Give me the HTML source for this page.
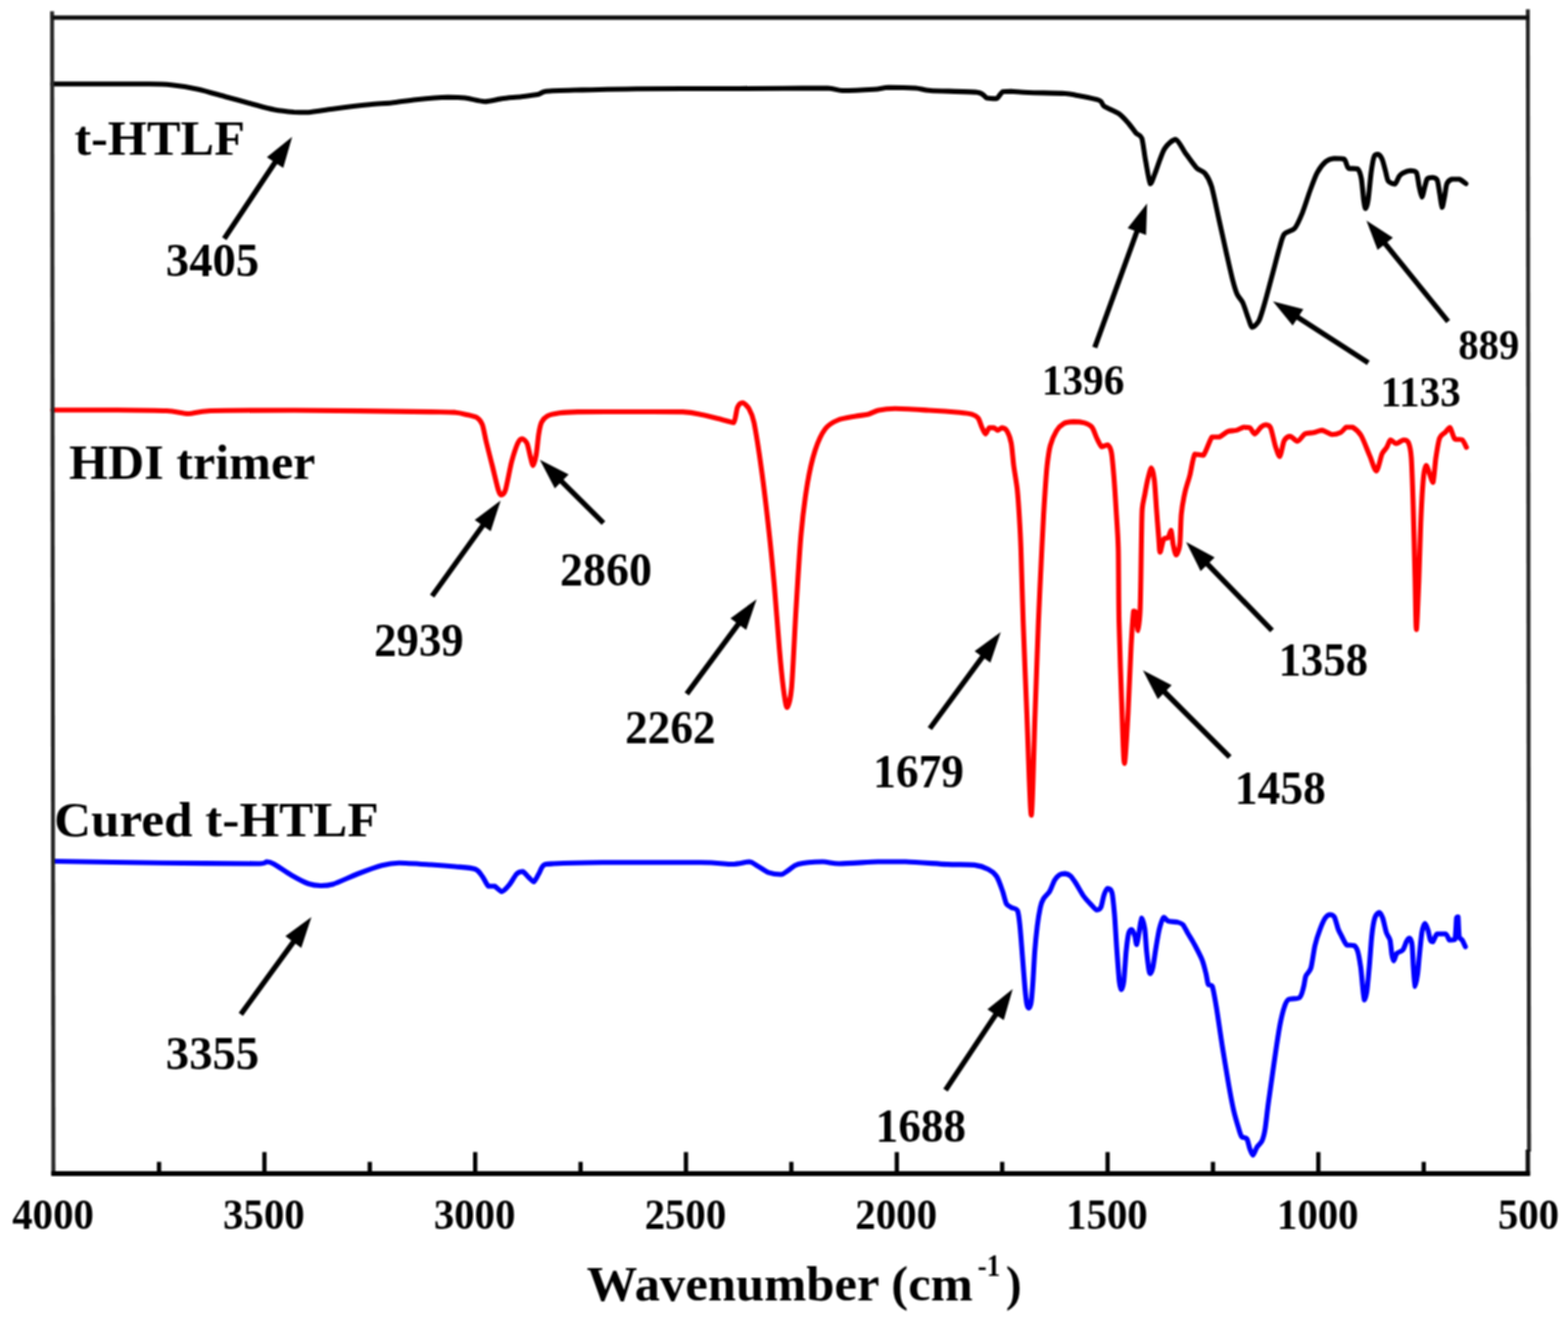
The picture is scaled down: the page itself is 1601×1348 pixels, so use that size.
<!DOCTYPE html>
<html lang="en">
<head>
<meta charset="utf-8">
<title>FTIR spectra</title>
<style>
html,body{margin:0;padding:0;background:#fff;}
body{width:1601px;height:1348px;position:relative;overflow:hidden;}
svg text{font-family:"Liberation Serif","Times New Roman",serif;font-weight:bold;fill:#000;}
</style>
</head>
<body>
<svg width="1601" height="1348" viewBox="0 0 1601 1348" style="display:block;position:absolute;left:0;top:0">
<rect width="1601" height="1348" fill="#fff"/>
<defs><filter id="soft" x="0" y="0" width="1601" height="1348" filterUnits="userSpaceOnUse" color-interpolation-filters="sRGB"><feConvolveMatrix order="3" kernelMatrix="0.0900 0.1200 0.0900 0.1200 0.1600 0.1200 0.0900 0.1200 0.0900" divisor="1" edgeMode="duplicate" preserveAlpha="true"/></filter></defs>
<g filter="url(#soft)"><rect width="1601" height="1348" fill="#fff"/>
<path d="M54.0,85.7 C60.1,85.7 86.9,85.7 100.0,85.7 C113.1,85.7 142.0,85.7 152.0,85.7 C162.0,85.8 168.3,86.0 175.0,86.7 C181.7,87.4 195.2,89.6 202.5,91.2 C209.8,92.8 222.7,96.7 230.0,98.7 C237.3,100.7 250.8,104.4 257.5,106.2 C264.2,108.0 274.3,110.9 280.0,112.0 C285.7,113.1 295.3,114.1 300.0,114.5 C304.7,114.7 309.7,114.7 315.0,114.7 C320.3,114.3 331.7,112.3 340.0,111.2 C348.3,110.1 369.5,107.5 377.5,106.7 C385.5,105.9 393.7,105.7 400.0,105.0 C406.3,104.3 417.3,102.5 425.0,101.7 C432.7,100.9 450.8,99.4 457.5,99.2 C464.2,99.2 470.0,99.4 475.0,100.0 C480.0,100.6 490.0,103.6 495.0,103.7 C500.0,103.7 507.5,101.4 512.5,100.7 C517.5,100.0 527.5,99.3 532.5,98.7 C537.5,98.1 546.7,96.9 550.0,96.2 C553.3,95.5 552.5,93.8 557.5,93.2 C562.5,92.6 575.2,92.3 587.5,92.0 C599.8,91.7 629.0,90.9 650.0,90.7 C671.0,90.5 725.0,90.6 745.0,90.5 C765.0,90.4 786.7,90.4 800.0,90.3 C813.3,90.2 837.0,90.0 845.0,90.0 C853.0,90.3 853.7,92.3 860.0,92.5 C866.3,92.5 886.2,91.6 892.5,91.2 C898.8,90.8 901.8,89.4 907.5,89.2 C913.2,89.2 929.3,89.6 935.0,90.0 C940.7,90.4 941.7,91.9 950.0,92.5 C958.3,93.1 989.8,93.2 997.5,94.2 C1005.2,95.2 1004.8,99.1 1007.5,100.0 C1010.2,100.7 1015.3,100.7 1017.5,100.7 C1019.7,99.9 1021.7,94.7 1023.7,93.7 C1025.7,93.2 1029.0,93.2 1032.5,93.2 C1036.0,93.3 1042.7,94.2 1050.0,94.5 C1057.3,94.8 1080.8,95.1 1087.5,95.5 C1094.2,95.9 1095.3,96.6 1100.0,97.5 C1104.7,98.4 1118.8,101.0 1122.5,102.5 C1126.2,104.0 1124.8,106.9 1127.5,108.7 C1130.2,110.5 1139.2,113.9 1142.5,116.2 C1145.8,118.5 1150.2,123.6 1152.5,126.2 C1154.8,128.8 1158.2,134.0 1160.0,136.0 C1161.8,138.0 1164.5,137.3 1165.8,141.0 C1167.1,144.7 1168.4,157.4 1169.6,163.6 C1170.8,169.8 1173.2,186.0 1174.5,187.8 C1175.8,187.8 1177.4,181.9 1179.3,177.1 C1181.2,172.3 1186.1,156.7 1188.9,152.1 C1191.7,147.5 1197.7,142.4 1200.5,142.4 C1203.3,142.9 1207.3,152.0 1210.1,155.9 C1212.9,159.8 1219.0,168.6 1221.7,171.4 C1224.4,174.2 1228.3,174.5 1230.4,177.1 C1232.5,179.7 1235.2,184.2 1237.1,190.6 C1239.0,197.0 1242.8,216.1 1244.9,225.4 C1247.0,234.7 1250.8,252.1 1252.6,260.1 C1254.4,268.1 1257.0,279.7 1258.4,285.1 C1259.8,290.5 1261.8,297.4 1263.2,300.6 C1264.6,303.8 1267.5,306.0 1269.0,309.3 C1270.5,312.6 1273.5,322.3 1274.8,325.6 C1276.1,328.9 1277.2,334.0 1278.6,334.3 C1280.0,334.3 1283.7,330.8 1285.4,327.6 C1287.1,324.4 1289.3,316.4 1291.1,310.2 C1292.9,304.0 1296.8,289.0 1298.9,281.3 C1301.0,273.6 1304.9,258.1 1306.6,252.4 C1308.3,246.7 1309.3,241.5 1311.4,238.9 C1313.5,236.3 1319.6,235.9 1322.0,233.1 C1324.4,230.3 1327.6,222.7 1329.7,217.6 C1331.8,212.5 1335.5,200.5 1337.5,195.0 C1339.5,189.5 1342.8,180.2 1345.0,176.2 C1347.2,172.2 1351.4,166.9 1353.7,165.0 C1356.0,163.1 1360.0,162.1 1362.5,161.8 C1365.0,161.8 1370.6,161.8 1372.5,162.5 C1374.4,163.8 1375.0,170.5 1376.8,171.8 C1378.6,172.5 1384.4,171.8 1386.2,172.5 C1388.0,173.9 1389.2,178.2 1390.0,182.5 C1390.8,186.8 1391.9,200.9 1392.5,205.0 C1393.1,209.1 1393.7,213.0 1394.3,213.0 C1394.9,213.0 1396.0,209.9 1396.8,205.0 C1397.6,200.1 1399.2,182.2 1400.0,176.2 C1400.8,170.2 1402.1,162.5 1403.0,160.0 C1403.9,157.5 1405.7,157.5 1406.8,157.5 C1407.9,157.8 1410.1,160.0 1411.2,162.5 C1412.3,165.0 1414.2,173.2 1415.0,176.2 C1415.8,179.2 1416.3,183.4 1417.5,185.0 C1418.7,186.6 1422.8,188.0 1424.3,188.0 C1425.8,187.3 1427.6,181.5 1428.7,180.0 C1429.8,178.5 1430.9,177.6 1432.4,176.8 C1433.9,176.0 1438.2,174.4 1440.0,174.3 C1441.8,174.3 1445.0,174.3 1446.2,176.2 C1447.4,178.1 1448.0,185.4 1448.7,188.7 C1449.4,192.0 1451.0,201.0 1451.8,201.2 C1452.6,201.2 1454.3,192.5 1455.0,190.0 C1455.7,187.5 1456.4,183.7 1457.4,182.5 C1458.4,181.3 1461.1,181.2 1462.4,181.2 C1463.7,181.4 1466.4,181.5 1467.4,183.7 C1468.4,185.9 1469.3,193.8 1470.0,197.5 C1470.7,201.2 1471.7,211.3 1472.4,211.8 C1473.1,211.8 1474.2,204.4 1474.9,201.2 C1475.6,198.0 1476.4,189.9 1477.4,187.5 C1478.4,185.1 1480.7,183.6 1482.4,183.0 C1484.1,183.0 1488.1,183.0 1490.0,183.0 C1491.9,183.6 1495.9,186.9 1496.8,187.5" fill="none" stroke="#000" stroke-width="5.1" stroke-linejoin="round" stroke-linecap="round"/>
<path d="M54.0,418.7 C62.8,418.7 104.5,418.7 120.0,418.7 C135.5,418.8 160.3,419.0 170.0,419.5 C179.7,420.0 186.5,422.5 192.5,422.5 C198.5,422.5 200.7,420.0 215.0,419.5 C229.3,419.0 270.0,419.0 300.0,419.0 C330.0,419.1 418.0,420.3 440.0,420.6 C462.0,420.9 460.0,420.8 465.0,421.2 C470.0,421.6 474.5,423.0 477.5,423.7 C480.5,424.4 485.5,425.5 487.5,426.8 C489.5,428.1 491.3,430.6 492.5,433.7 C493.7,436.8 494.9,444.5 496.2,450.0 C497.5,455.5 500.8,468.3 502.5,475.0 C504.2,481.7 507.5,495.9 508.7,500.0 C509.9,504.1 510.8,505.5 511.8,505.5 C512.8,505.5 514.8,504.6 516.2,500.0 C517.6,495.4 520.8,477.5 522.5,471.2 C524.2,464.9 527.3,455.6 528.7,452.5 C530.1,449.4 531.8,448.0 533.0,448.0 C534.2,448.0 536.9,450.2 538.0,452.5 C539.1,454.8 540.4,461.9 541.2,465.0 C542.0,468.1 543.5,475.5 544.3,475.5 C545.1,475.5 546.6,469.2 547.4,465.0 C548.2,460.8 549.3,448.2 550.0,443.7 C550.7,439.2 551.8,433.7 553.0,431.2 C554.2,428.7 556.3,426.3 558.7,425.0 C561.1,423.7 567.0,422.4 571.2,421.8 C575.4,421.2 580.8,420.8 590.0,420.6 C599.2,420.5 625.7,420.5 640.0,420.5 C654.3,420.5 686.7,420.5 697.1,420.6 C707.5,421.0 712.4,422.7 717.9,423.8 C723.4,424.9 734.5,428.0 738.7,429.0 C742.9,430.0 747.2,431.6 749.1,431.6 C751.0,429.9 751.8,418.7 753.0,416.0 C754.2,413.3 756.6,411.3 758.2,411.3 C759.8,411.5 763.1,414.6 764.7,417.3 C766.3,420.0 768.2,423.1 769.9,431.6 C771.6,440.1 775.6,465.7 777.7,480.9 C779.8,496.1 783.8,530.2 785.5,545.8 C787.2,561.4 789.2,582.2 790.6,597.8 C792.0,613.4 794.6,648.8 795.8,662.7 C797.0,676.6 798.7,693.7 799.7,701.7 C800.7,709.7 802.5,722.5 803.6,722.5 C804.7,722.5 807.1,714.9 808.3,701.7 C809.5,688.5 811.4,644.6 812.7,623.8 C814.0,603.0 816.3,563.1 817.9,545.8 C819.5,528.5 822.5,505.3 824.4,493.9 C826.3,482.5 829.8,467.6 832.2,460.1 C834.6,452.6 839.5,442.1 842.6,438.0 C845.7,433.9 851.4,430.7 855.6,429.0 C859.8,427.3 869.6,425.8 873.8,425.0 C878.0,424.2 883.7,423.8 886.8,423.0 C889.9,422.2 893.4,419.8 897.0,419.0 C900.6,418.2 907.2,417.3 914.0,417.3 C920.8,417.3 939.4,418.5 948.2,419.0 C957.0,419.5 974.1,420.7 980.0,421.2 C985.9,421.7 990.0,422.3 992.5,423.1 C995.0,423.9 997.4,425.2 998.7,426.9 C1000.0,428.6 1001.5,434.0 1002.5,436.2 C1003.5,438.4 1005.2,443.0 1006.2,443.1 C1007.2,443.1 1008.8,437.7 1010.0,436.9 C1011.2,436.9 1013.8,436.9 1015.0,436.9 C1016.2,437.2 1017.6,439.4 1018.7,439.4 C1019.8,439.4 1021.8,436.9 1023.1,436.9 C1024.4,437.0 1026.8,437.9 1028.1,440.0 C1029.4,442.1 1031.6,447.8 1032.5,452.5 C1033.4,457.2 1034.2,468.7 1035.0,475.0 C1035.8,481.3 1038.0,493.3 1038.7,500.0 C1039.4,506.7 1040.1,517.0 1040.6,525.0 C1041.1,533.0 1041.9,545.3 1042.4,560.0 C1042.9,574.7 1043.9,612.3 1044.7,634.9 C1045.5,657.5 1047.4,703.5 1048.5,729.8 C1049.6,756.1 1051.9,832.5 1053.0,832.5 C1054.1,832.5 1055.8,756.1 1056.8,729.8 C1057.8,703.5 1059.4,657.5 1060.3,634.9 C1061.2,612.3 1063.1,574.7 1063.8,560.0 C1064.5,545.3 1065.1,533.0 1065.6,525.0 C1066.1,517.0 1066.7,506.7 1067.2,500.0 C1067.7,493.3 1068.5,481.0 1069.2,475.0 C1069.9,469.0 1071.1,459.7 1072.4,455.0 C1073.7,450.3 1076.9,443.0 1078.7,440.0 C1080.5,437.0 1083.9,433.8 1086.2,432.5 C1088.5,431.2 1093.4,430.7 1096.2,430.6 C1099.0,430.6 1104.9,431.2 1107.4,431.9 C1109.9,432.6 1113.2,434.1 1114.9,436.2 C1116.6,438.3 1118.6,444.8 1119.9,447.5 C1121.2,450.2 1123.4,455.3 1124.9,456.2 C1126.4,456.2 1129.9,454.3 1131.2,454.3 C1132.5,455.1 1134.1,458.1 1134.9,462.5 C1135.7,466.9 1136.7,479.1 1137.4,487.4 C1138.1,495.7 1139.3,515.3 1139.9,525.0 C1140.5,534.7 1141.4,545.3 1141.8,560.0 C1142.2,574.7 1142.1,612.3 1142.6,634.9 C1143.1,657.5 1145.0,710.5 1145.7,729.8 C1146.4,749.1 1147.3,779.6 1148.1,779.6 C1148.9,779.6 1150.8,745.7 1151.7,729.8 C1152.6,713.9 1154.1,674.1 1154.9,660.0 C1155.7,645.9 1156.8,628.5 1157.5,624.0 C1158.2,624.0 1159.4,624.0 1160.0,626.0 C1160.6,628.7 1161.5,644.0 1162.0,644.0 C1162.5,643.9 1163.6,631.7 1164.0,625.0 C1164.4,618.3 1164.6,603.6 1164.8,593.5 C1165.0,583.4 1165.3,558.9 1165.5,549.0 C1165.7,539.1 1165.8,525.2 1166.3,519.3 C1166.8,513.4 1168.3,508.4 1169.0,504.5 C1169.7,500.6 1171.0,493.3 1171.9,489.7 C1172.8,486.1 1174.7,477.8 1175.6,477.8 C1176.5,477.8 1177.9,484.2 1178.6,489.7 C1179.3,495.2 1180.2,511.4 1180.8,519.3 C1181.4,527.2 1182.6,543.1 1183.1,549.0 C1183.6,554.9 1183.8,563.7 1184.5,563.9 C1185.2,563.9 1187.1,552.5 1188.2,550.5 C1189.3,549.0 1191.7,550.2 1192.7,549.0 C1193.7,547.8 1195.0,541.6 1195.7,541.6 C1196.4,542.6 1197.2,553.0 1197.9,556.4 C1198.6,559.8 1200.0,566.8 1200.9,566.8 C1201.8,566.8 1203.9,562.0 1204.6,556.4 C1205.3,550.8 1205.5,532.2 1206.2,525.0 C1206.9,517.8 1208.8,507.7 1210.0,502.4 C1211.2,497.1 1213.7,490.2 1215.0,485.0 C1216.3,479.8 1218.2,466.4 1220.0,463.7 C1221.8,463.7 1226.4,465.0 1228.7,465.0 C1231.0,462.7 1235.3,448.7 1237.5,446.2 C1239.7,446.2 1242.8,446.2 1245.0,446.2 C1247.2,445.5 1251.4,441.5 1253.7,440.6 C1256.0,439.7 1260.3,440.0 1262.5,439.4 C1264.7,438.8 1268.2,436.5 1270.0,436.2 C1271.8,436.2 1274.7,436.2 1276.2,436.9 C1277.7,437.8 1279.7,443.1 1281.2,443.1 C1282.7,443.0 1285.9,437.5 1287.4,436.2 C1288.9,434.9 1291.1,433.7 1292.4,433.7 C1293.7,433.8 1296.1,433.9 1297.4,436.9 C1298.7,439.9 1301.1,452.3 1302.4,456.2 C1303.7,460.1 1305.6,466.2 1306.8,466.2 C1308.0,465.4 1309.8,452.7 1311.2,450.0 C1312.6,447.3 1315.6,445.6 1317.4,445.6 C1319.2,445.7 1322.9,450.6 1324.9,450.6 C1326.9,450.3 1330.2,444.3 1332.4,443.1 C1334.6,441.9 1338.9,442.3 1341.2,441.8 C1343.5,441.3 1347.4,439.4 1349.9,439.4 C1352.4,439.7 1357.4,443.4 1359.9,443.7 C1362.4,443.7 1366.6,442.8 1368.6,441.8 C1370.6,440.8 1373.2,436.9 1374.9,436.2 C1376.6,436.2 1379.1,436.2 1381.1,436.2 C1383.1,437.4 1387.6,441.1 1389.9,445.0 C1392.2,448.9 1396.5,460.8 1398.6,465.6 C1400.7,470.4 1403.6,481.0 1405.3,481.0 C1407.0,480.7 1409.7,466.8 1411.1,463.6 C1412.5,460.4 1414.7,458.8 1415.9,456.9 C1417.1,455.0 1418.5,449.7 1419.8,449.2 C1421.1,449.2 1423.8,453.0 1425.6,453.0 C1427.4,453.0 1431.6,449.3 1433.3,449.2 C1435.0,449.2 1437.1,449.7 1438.1,452.1 C1439.1,454.5 1440.4,459.0 1441.0,467.5 C1441.6,476.0 1442.4,499.0 1442.9,515.7 C1443.4,532.4 1444.5,575.9 1444.9,592.9 C1445.3,609.9 1445.7,643.0 1446.2,643.0 C1446.7,643.0 1448.1,607.3 1448.7,592.9 C1449.3,578.5 1450.0,549.1 1450.6,535.0 C1451.2,520.9 1452.7,494.8 1453.5,486.8 C1454.3,478.8 1455.6,475.7 1456.4,475.2 C1457.2,475.2 1458.4,480.6 1459.3,482.9 C1460.2,485.2 1462.3,492.6 1463.2,492.6 C1464.1,490.5 1465.2,473.5 1466.1,467.5 C1467.0,461.5 1468.6,450.8 1469.9,447.3 C1471.2,443.8 1474.3,442.9 1475.7,441.5 C1477.1,440.1 1479.2,436.6 1480.5,436.6 C1481.8,437.5 1483.7,446.5 1485.4,448.2 C1487.1,449.2 1491.5,448.2 1493.1,449.2 C1494.7,450.4 1496.7,455.9 1497.3,456.9" fill="none" stroke="#ff0000" stroke-width="5.1" stroke-linejoin="round" stroke-linecap="round"/>
<path d="M55.0,879.5 C69.7,879.7 137.0,880.9 165.0,881.2 C193.0,881.5 250.7,882.0 265.0,882.0 C272.5,881.8 270.5,880.0 272.5,880.0 C274.5,880.1 276.7,880.7 280.0,882.5 C283.3,884.3 292.8,891.0 297.5,893.7 C302.2,896.4 311.0,901.1 315.0,902.5 C319.0,903.9 324.2,904.4 327.5,904.5 C330.8,904.5 335.0,904.5 340.0,903.0 C345.0,901.4 358.3,895.1 365.0,892.5 C371.7,889.9 384.3,885.2 390.0,883.7 C395.7,882.2 400.8,881.3 407.5,881.2 C414.2,881.2 432.3,882.5 440.0,883.0 C447.7,883.5 459.0,884.4 465.0,885.0 C471.0,885.6 481.3,886.2 485.0,887.5 C488.7,888.8 490.7,892.7 492.5,895.0 C494.3,897.3 497.0,903.7 498.7,905.0 C500.4,905.0 503.2,905.0 505.0,905.0 C506.8,905.7 510.5,910.5 512.5,910.5 C514.5,910.3 518.0,906.1 520.0,903.7 C522.0,901.3 525.7,894.3 527.5,892.5 C529.3,890.7 532.0,890.0 533.7,890.0 C535.4,890.5 538.5,894.8 540.0,896.2 C541.5,897.6 543.7,900.5 545.0,900.5 C546.3,900.0 548.7,894.7 550.0,892.5 C551.3,890.3 553.0,885.1 555.0,883.7 C557.0,882.3 557.0,882.4 565.0,882.0 C573.0,881.6 595.0,880.9 615.0,880.7 C635.0,880.7 697.3,880.7 715.0,880.7 C732.7,880.9 740.8,882.5 747.5,882.5 C754.2,882.4 761.7,880.0 765.0,880.0 C768.3,880.2 769.8,882.2 772.5,883.7 C775.2,885.2 781.7,890.0 785.0,891.2 C788.3,892.4 794.8,893.0 797.5,893.0 C800.2,892.7 802.7,890.1 805.0,888.7 C807.3,887.3 810.3,883.7 815.0,882.5 C819.7,881.3 834.4,880.1 840.0,880.0 C845.6,880.0 849.5,882.0 857.0,882.0 C864.5,882.0 887.4,880.3 896.4,880.0 C905.4,880.0 915.2,880.0 924.6,880.0 C934.0,880.3 957.4,882.1 966.8,882.6 C976.2,883.1 989.4,882.7 995.0,883.4 C1000.6,884.1 1006.1,886.2 1009.1,887.7 C1012.1,889.2 1015.6,892.0 1017.6,895.0 C1019.6,898.0 1022.5,906.7 1023.8,910.4 C1025.1,914.1 1026.4,920.8 1027.6,923.0 C1028.8,925.2 1031.1,925.8 1032.6,926.7 C1034.1,927.6 1037.7,927.4 1038.9,929.9 C1040.1,932.4 1040.7,939.4 1041.4,945.7 C1042.1,952.0 1043.3,968.8 1044.0,977.2 C1044.7,985.6 1045.9,1002.3 1046.5,1008.7 C1047.1,1015.1 1047.9,1022.3 1048.4,1025.1 C1048.9,1027.9 1049.7,1029.5 1050.3,1029.5 C1050.9,1029.3 1052.2,1027.4 1052.8,1023.8 C1053.4,1020.2 1054.2,1009.5 1054.7,1002.4 C1055.2,995.3 1056.0,978.5 1056.6,970.9 C1057.2,963.3 1058.4,951.6 1059.1,945.7 C1059.8,939.8 1061.4,930.4 1062.2,926.7 C1063.0,923.0 1064.1,920.1 1065.4,917.9 C1066.7,915.7 1070.2,912.9 1071.7,910.4 C1073.2,907.9 1075.4,901.3 1076.7,899.0 C1078.0,896.7 1080.4,894.2 1081.8,893.3 C1083.2,892.4 1086.0,892.1 1087.5,892.1 C1089.0,892.3 1091.7,893.3 1093.1,894.6 C1094.5,895.9 1096.5,898.9 1098.2,901.5 C1099.9,904.1 1103.7,911.2 1105.7,914.1 C1107.7,917.0 1111.4,921.0 1113.3,923.0 C1115.2,925.0 1118.2,928.8 1119.6,929.3 C1121.0,929.3 1123.0,928.7 1124.0,926.7 C1125.0,924.7 1126.3,916.7 1127.2,914.1 C1128.1,911.5 1129.9,907.5 1131.0,907.2 C1132.1,907.2 1134.5,908.2 1135.4,911.6 C1136.3,915.0 1137.2,925.1 1137.9,933.0 C1138.6,940.9 1139.7,961.6 1140.4,970.9 C1141.1,980.2 1142.3,997.1 1142.9,1002.4 C1143.5,1007.7 1144.2,1010.6 1144.8,1010.6 C1145.4,1010.6 1146.7,1007.7 1147.4,1002.4 C1148.1,997.1 1149.2,977.5 1149.9,970.9 C1150.6,964.3 1151.6,956.1 1152.4,953.2 C1153.2,950.3 1154.8,949.4 1155.6,949.4 C1156.4,949.7 1158.0,953.7 1158.7,955.7 C1159.4,957.7 1160.0,964.6 1160.6,964.6 C1161.2,964.1 1162.4,955.6 1163.1,952.0 C1163.8,948.4 1164.9,938.0 1165.7,937.5 C1166.5,937.5 1168.1,943.7 1168.8,948.2 C1169.5,952.7 1170.1,965.2 1170.7,970.9 C1171.3,976.6 1172.7,988.0 1173.2,991.1 C1173.7,994.2 1174.0,994.2 1174.5,994.2 C1175.0,993.9 1176.2,991.9 1177.0,988.5 C1177.8,985.1 1179.3,973.8 1180.2,968.4 C1181.1,963.0 1182.8,952.4 1183.9,948.2 C1185.0,944.0 1187.1,937.8 1188.3,936.8 C1189.5,936.8 1190.9,939.9 1192.8,940.6 C1194.7,941.3 1200.8,941.4 1202.8,941.9 C1204.8,942.4 1206.6,942.9 1207.9,944.4 C1209.2,945.9 1211.4,950.6 1212.9,953.2 C1214.4,955.8 1217.2,960.0 1219.1,963.6 C1221.0,967.2 1225.7,976.0 1227.4,980.2 C1229.1,984.4 1230.7,991.5 1231.5,994.8 C1232.3,998.1 1232.8,1003.4 1233.6,1005.1 C1234.4,1006.8 1236.7,1005.1 1237.8,1007.2 C1238.9,1010.3 1240.5,1019.7 1241.9,1028.0 C1243.3,1036.3 1246.5,1059.0 1248.2,1069.5 C1249.9,1080.0 1252.9,1098.3 1254.4,1106.9 C1255.9,1115.5 1258.2,1127.8 1259.6,1133.9 C1261.0,1140.0 1263.7,1149.0 1264.8,1152.6 C1265.9,1156.2 1266.8,1159.5 1267.9,1160.9 C1269.0,1162.3 1272.0,1161.3 1273.1,1163.0 C1274.2,1164.7 1275.4,1171.2 1276.2,1173.4 C1277.0,1175.6 1278.3,1179.6 1279.3,1179.6 C1280.3,1179.3 1282.3,1173.2 1283.5,1171.3 C1284.7,1169.4 1287.5,1167.5 1288.6,1165.0 C1289.7,1162.5 1291.0,1157.6 1291.8,1152.6 C1292.6,1147.6 1293.9,1134.9 1294.9,1127.7 C1295.9,1120.5 1297.9,1106.4 1299.0,1098.6 C1300.1,1090.8 1302.1,1076.7 1303.2,1069.5 C1304.3,1062.3 1306.2,1050.1 1307.3,1044.6 C1308.4,1039.1 1310.4,1031.2 1311.5,1028.0 C1312.6,1024.8 1313.5,1022.0 1315.6,1020.7 C1317.7,1019.4 1325.0,1020.4 1327.1,1018.6 C1329.2,1016.8 1330.4,1010.1 1331.2,1007.2 C1332.0,1004.3 1332.3,999.3 1333.3,996.8 C1334.3,994.3 1337.3,992.6 1338.5,988.5 C1339.7,984.4 1341.4,971.0 1342.6,965.7 C1343.8,960.4 1346.4,952.8 1347.8,949.1 C1349.2,945.4 1351.7,939.7 1353.0,937.7 C1354.3,935.7 1356.5,934.2 1357.8,934.0 C1359.1,934.0 1361.4,934.5 1362.5,936.5 C1363.6,938.5 1365.4,946.4 1366.4,949.0 C1367.4,951.6 1368.9,954.1 1370.0,956.2 C1371.1,958.3 1373.3,963.7 1375.0,965.0 C1376.7,965.6 1381.0,965.0 1382.5,965.6 C1384.0,966.4 1385.3,968.3 1386.2,971.2 C1387.1,974.1 1388.6,982.7 1389.3,987.4 C1390.0,992.1 1390.7,1001.7 1391.2,1006.2 C1391.7,1010.7 1392.5,1020.4 1393.1,1021.2 C1393.7,1021.2 1394.9,1016.9 1395.6,1012.4 C1396.3,1007.9 1397.4,994.9 1398.1,987.4 C1398.8,979.9 1399.9,962.9 1400.6,956.2 C1401.3,949.5 1402.7,940.7 1403.7,937.5 C1404.7,934.3 1407.0,931.9 1408.1,931.9 C1409.2,931.9 1410.8,934.8 1411.8,937.5 C1412.8,940.2 1414.6,949.5 1415.6,952.5 C1416.6,955.5 1418.6,957.0 1419.3,960.0 C1420.0,963.0 1420.7,972.2 1421.2,975.0 C1421.7,977.8 1422.4,981.2 1423.1,981.2 C1423.8,981.0 1425.0,975.2 1426.2,973.7 C1427.4,972.2 1431.1,971.7 1432.4,970.0 C1433.7,968.3 1435.3,962.8 1436.2,961.2 C1437.1,959.6 1438.6,958.1 1439.3,958.1 C1440.0,958.6 1441.3,961.1 1441.8,965.0 C1442.3,968.9 1442.7,981.7 1443.1,987.4 C1443.5,993.1 1444.3,1006.4 1444.9,1007.4 C1445.5,1007.4 1446.8,999.3 1447.4,995.0 C1448.0,990.7 1448.7,980.7 1449.3,975.0 C1449.9,969.3 1451.1,956.8 1451.8,952.5 C1452.5,948.2 1454.1,943.4 1454.9,943.1 C1455.7,943.1 1457.4,947.7 1458.1,950.0 C1458.8,952.3 1459.8,958.4 1460.5,960.0 C1461.2,961.6 1462.1,961.8 1463.0,961.8 C1463.9,961.0 1465.6,954.8 1467.4,953.7 C1469.2,953.7 1474.5,953.7 1476.2,953.7 C1477.9,954.5 1478.7,959.3 1479.9,960.0 C1481.1,960.0 1484.5,960.0 1485.5,959.3 C1486.5,956.3 1486.8,940.6 1487.2,937.5 C1487.6,936.2 1488.3,936.2 1488.7,936.2 C1489.1,938.7 1489.3,953.0 1489.9,956.2 C1490.5,959.4 1492.2,958.6 1493.0,960.0 C1493.8,961.4 1495.8,965.9 1496.2,966.8" fill="none" stroke="#0000ff" stroke-width="5.1" stroke-linejoin="round" stroke-linecap="round"/>
<line x1="53.2" y1="11.5" x2="54.5" y2="1200" stroke="#2a2a2a" stroke-width="4.1"/>
<line x1="1560" y1="9.6" x2="1561.2" y2="1176" stroke="#2a2a2a" stroke-width="4.1"/>
<line x1="1560" y1="1174" x2="1560" y2="1200.3" stroke="#111" stroke-width="4.6"/>
<line x1="53" y1="18" x2="1561" y2="18" stroke="#111" stroke-width="4.4"/>
<line x1="52.4" y1="1198.4" x2="1562.2" y2="1198.4" stroke="#000" stroke-width="5"/>
<line x1="162.4" y1="1186.5" x2="162.4" y2="1197" stroke="#000" stroke-width="4.4"/>
<line x1="270.0" y1="1176.5" x2="270.0" y2="1197" stroke="#000" stroke-width="4.4"/>
<line x1="377.6" y1="1186.5" x2="377.6" y2="1197" stroke="#000" stroke-width="4.4"/>
<line x1="485.2" y1="1176.5" x2="485.2" y2="1197" stroke="#000" stroke-width="4.4"/>
<line x1="592.8" y1="1186.5" x2="592.8" y2="1197" stroke="#000" stroke-width="4.4"/>
<line x1="700.4" y1="1176.5" x2="700.4" y2="1197" stroke="#000" stroke-width="4.4"/>
<line x1="808.0" y1="1186.5" x2="808.0" y2="1197" stroke="#000" stroke-width="4.4"/>
<line x1="915.7" y1="1176.5" x2="915.7" y2="1197" stroke="#000" stroke-width="4.4"/>
<line x1="1023.3" y1="1186.5" x2="1023.3" y2="1197" stroke="#000" stroke-width="4.4"/>
<line x1="1130.9" y1="1176.5" x2="1130.9" y2="1197" stroke="#000" stroke-width="4.4"/>
<line x1="1238.5" y1="1186.5" x2="1238.5" y2="1197" stroke="#000" stroke-width="4.4"/>
<line x1="1346.1" y1="1176.5" x2="1346.1" y2="1197" stroke="#000" stroke-width="4.4"/>
<line x1="1453.7" y1="1186.5" x2="1453.7" y2="1197" stroke="#000" stroke-width="4.4"/>
<text id="l_thtlf" x="75.88" y="158" font-size="51.5" textLength="174.16" lengthAdjust="spacingAndGlyphs">t-HTLF</text>
<text id="l_hdi" x="70.38" y="488.6" font-size="51.5" textLength="251.73" lengthAdjust="spacingAndGlyphs">HDI trimer</text>
<text id="l_cured" x="55.30" y="854.4" font-size="51.5" textLength="331.30" lengthAdjust="spacingAndGlyphs">Cured t-HTLF</text>
<text id="a3405" x="169.34" y="282.1" font-size="47.5" textLength="95.21" lengthAdjust="spacingAndGlyphs">3405</text>
<text id="a1396" x="1063.63" y="403.2" font-size="44.5" textLength="84.44" lengthAdjust="spacingAndGlyphs">1396</text>
<text id="a1133" x="1409.70" y="415.0" font-size="44.5" textLength="81.78" lengthAdjust="spacingAndGlyphs">1133</text>
<text id="a889" x="1488.99" y="367.3" font-size="44.5" textLength="62.46" lengthAdjust="spacingAndGlyphs">889</text>
<text id="a2939" x="381.88" y="669.5" font-size="47.5" textLength="91.66" lengthAdjust="spacingAndGlyphs">2939</text>
<text id="a2860" x="571.86" y="598" font-size="47.5" textLength="93.80" lengthAdjust="spacingAndGlyphs">2860</text>
<text id="a2262" x="638.22" y="758.7" font-size="47.5" textLength="92.44" lengthAdjust="spacingAndGlyphs">2262</text>
<text id="a1679" x="891.48" y="803.7" font-size="47.5" textLength="92.82" lengthAdjust="spacingAndGlyphs">1679</text>
<text id="a1458" x="1260.81" y="821" font-size="47.5" textLength="92.94" lengthAdjust="spacingAndGlyphs">1458</text>
<text id="a1358" x="1305.49" y="690" font-size="47.5" textLength="91.51" lengthAdjust="spacingAndGlyphs">1358</text>
<text id="a3355" x="169.34" y="1092" font-size="47.5" textLength="95.21" lengthAdjust="spacingAndGlyphs">3355</text>
<text id="a1688" x="894.05" y="1166.2" font-size="47.5" textLength="92.42" lengthAdjust="spacingAndGlyphs">1688</text>
<text id="title" x="598.99" y="1327.8" font-size="51.5" textLength="394.42" lengthAdjust="spacingAndGlyphs">Wavenumber (cm</text>
<text id="sup" x="998.37" y="1303.2" font-size="32" textLength="23.06" lengthAdjust="spacingAndGlyphs">-1</text>
<text id="paren" x="1026.92" y="1328.2" font-size="51.5" textLength="16.19" lengthAdjust="spacingAndGlyphs">)</text>
<text id="t4000" x="12.50" y="1254.8" font-size="44.3" textLength="83.40" lengthAdjust="spacingAndGlyphs">4000</text>
<text id="t3500" x="227.71" y="1254.8" font-size="44.3" textLength="83.40" lengthAdjust="spacingAndGlyphs">3500</text>
<text id="t3000" x="442.93" y="1254.8" font-size="44.3" textLength="83.40" lengthAdjust="spacingAndGlyphs">3000</text>
<text id="t2500" x="658.14" y="1254.8" font-size="44.3" textLength="83.40" lengthAdjust="spacingAndGlyphs">2500</text>
<text id="t2000" x="873.36" y="1254.8" font-size="44.3" textLength="83.40" lengthAdjust="spacingAndGlyphs">2000</text>
<text id="t1500" x="1088.57" y="1254.8" font-size="44.3" textLength="83.40" lengthAdjust="spacingAndGlyphs">1500</text>
<text id="t1000" x="1303.79" y="1254.8" font-size="44.3" textLength="83.40" lengthAdjust="spacingAndGlyphs">1000</text>
<text id="t500" x="1529.40" y="1254.8" font-size="44.3" textLength="62.60" lengthAdjust="spacingAndGlyphs">500</text>
<line x1="229.0" y1="243.7" x2="283.1" y2="162.6" stroke="#000" stroke-width="5.4" stroke-linecap="butt"/><polygon points="298.3,139.7 289.2,171.5 272.5,160.4" fill="#000"/>
<line x1="1117.8" y1="354.9" x2="1162.2" y2="232.7" stroke="#000" stroke-width="5.3" stroke-linecap="butt"/><polygon points="1171.2,207.8 1170.2,239.9 1151.4,233.1" fill="#000"/>
<line x1="1397.1" y1="370.5" x2="1322.0" y2="322.1" stroke="#000" stroke-width="5.3" stroke-linecap="butt"/><polygon points="1299.7,307.7 1330.8,315.8 1319.9,332.6" fill="#000"/>
<line x1="1478.6" y1="328.3" x2="1411.9" y2="245.9" stroke="#000" stroke-width="5.3" stroke-linecap="butt"/><polygon points="1395.2,225.3 1422.2,242.7 1406.6,255.3" fill="#000"/>
<line x1="441.2" y1="608.7" x2="495.2" y2="533.5" stroke="#000" stroke-width="5.4" stroke-linecap="butt"/><polygon points="511.2,511.2 501.0,542.6 484.7,531.0" fill="#000"/>
<line x1="616.2" y1="534.2" x2="570.7" y2="488.9" stroke="#000" stroke-width="5.4" stroke-linecap="butt"/><polygon points="551.2,469.5 580.6,484.6 566.5,498.8" fill="#000"/>
<line x1="701.2" y1="708.7" x2="756.2" y2="634.1" stroke="#000" stroke-width="5.4" stroke-linecap="butt"/><polygon points="772.5,612.0 761.9,643.3 745.8,631.4" fill="#000"/>
<line x1="949.4" y1="744.0" x2="1005.5" y2="667.7" stroke="#000" stroke-width="5.4" stroke-linecap="butt"/><polygon points="1021.8,645.5 1011.2,676.8 995.1,665.0" fill="#000"/>
<line x1="1255.6" y1="773.2" x2="1186.4" y2="704.0" stroke="#000" stroke-width="5.4" stroke-linecap="butt"/><polygon points="1167.0,684.5 1196.3,699.7 1182.2,713.9" fill="#000"/>
<line x1="1298.8" y1="643.9" x2="1230.3" y2="573.3" stroke="#000" stroke-width="5.4" stroke-linecap="butt"/><polygon points="1211.1,553.6 1240.2,569.2 1225.9,583.2" fill="#000"/>
<line x1="245.9" y1="1035.8" x2="301.8" y2="958.8" stroke="#000" stroke-width="5.4" stroke-linecap="butt"/><polygon points="318.0,936.5 307.6,967.9 291.4,956.1" fill="#000"/>
<line x1="965.4" y1="1113.2" x2="1018.8" y2="1032.9" stroke="#000" stroke-width="5.4" stroke-linecap="butt"/><polygon points="1034.0,1010.0 1024.9,1041.8 1008.2,1030.7" fill="#000"/>
</g></svg>
</body>
</html>
